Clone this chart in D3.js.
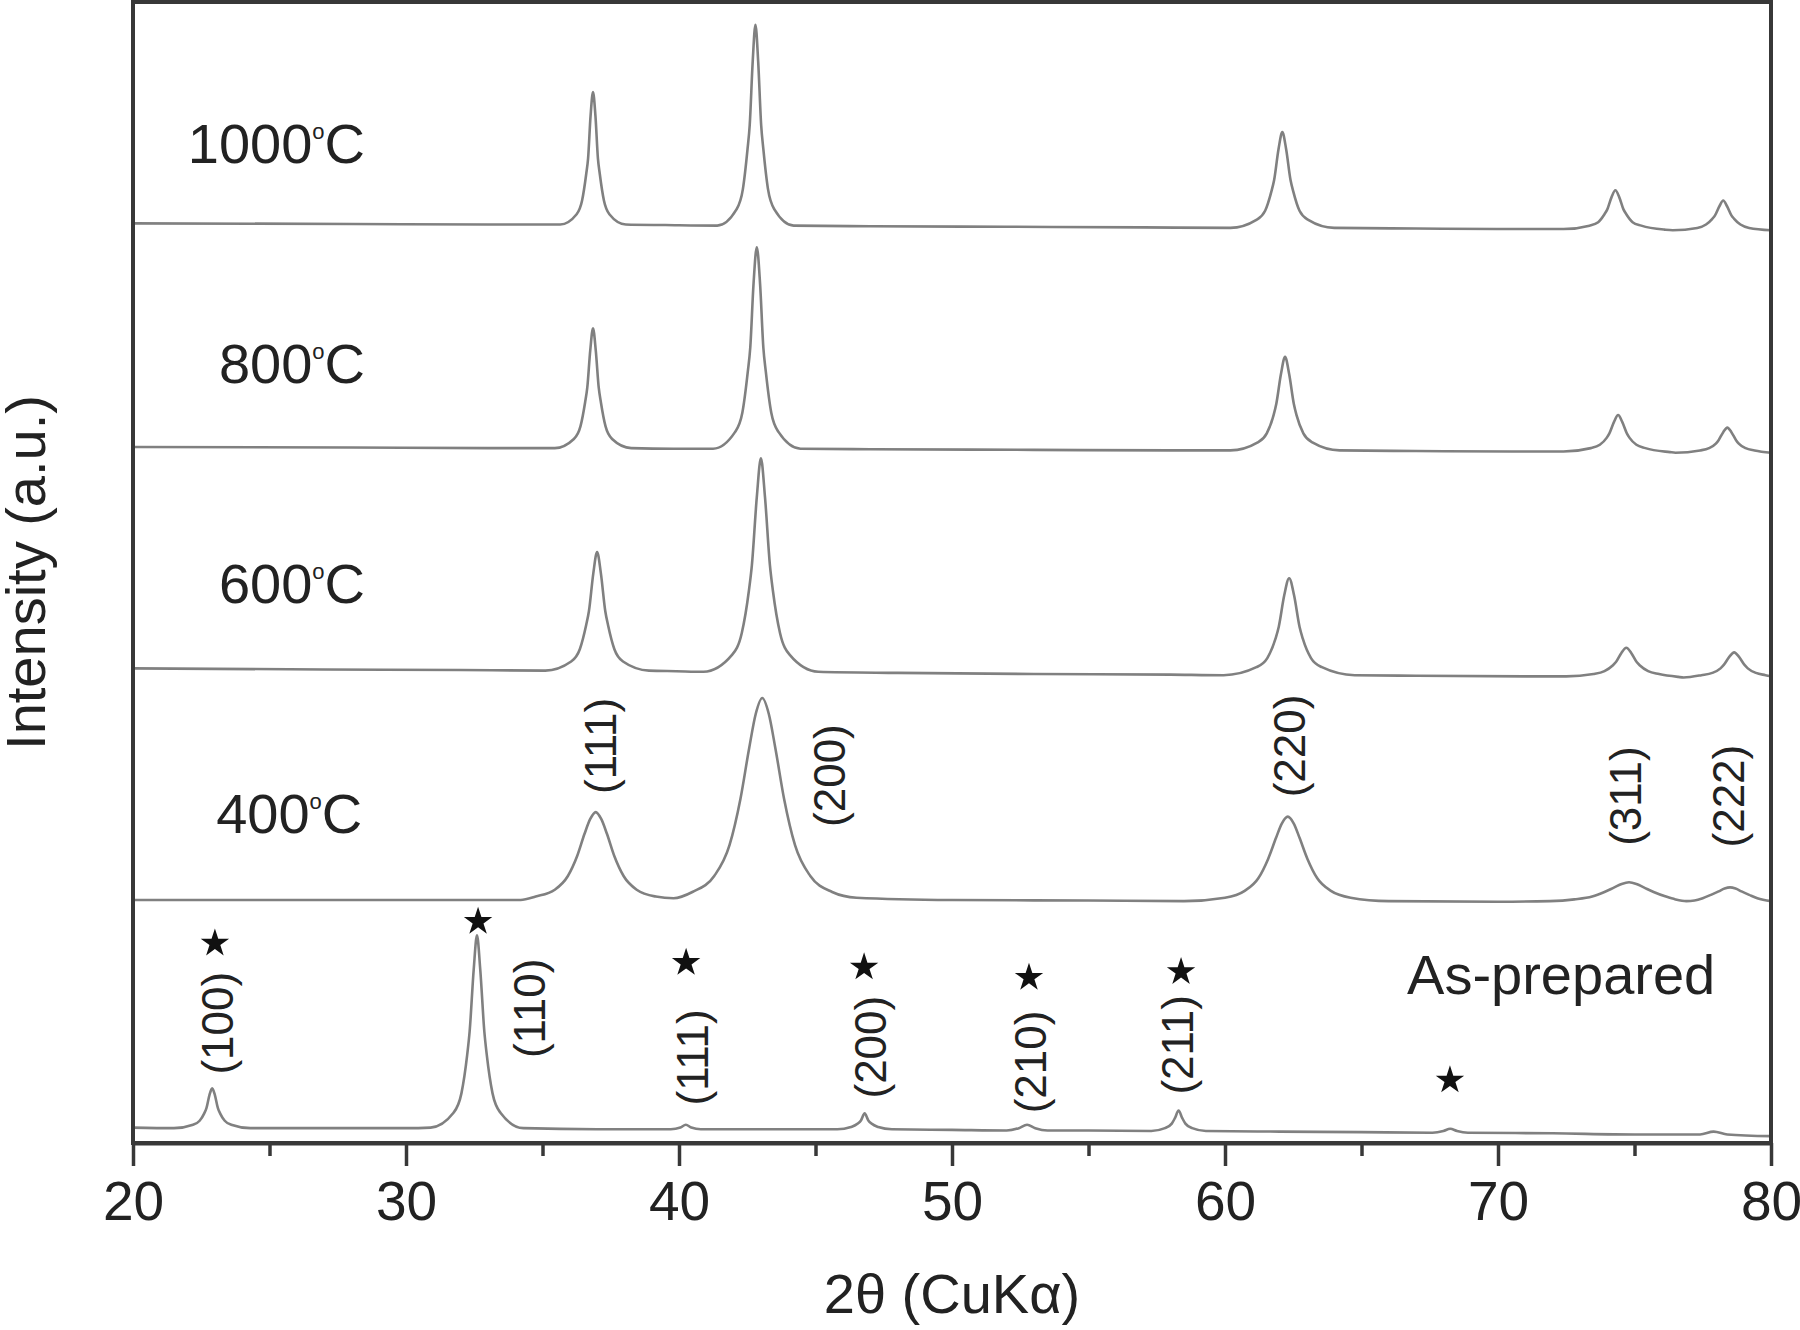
<!DOCTYPE html>
<html>
<head>
<meta charset="utf-8">
<script src="https://cdn.jsdelivr.net/npm/d3@7/dist/d3.min.js"></script>
<style>
  html, body { margin: 0; padding: 0; background: #fff; }
  svg text { font-family: "Liberation Sans", Arial, sans-serif; fill: #222; }
</style>
</head>
<body>
<script>
// tick values on the 2theta axis
const majorTicks = [20, 30, 40, 50, 60, 70, 80];
const minorTicks = [25, 35, 45, 55, 65, 75];

// XRD patterns, [2theta, intensity a.u.] (stacked)
const pattern1000 = [
  [20, 80.6], [28, 80.55], [33, 80.5],
  [35.65, 80.5], [36.25, 81.4], [36.45, 82.6], [36.6, 84.9], [36.67, 86.3], [36.76, 90.0], [36.85, 92.1], [36.94, 90.0], [37.03, 86.3], [37.1, 84.9], [37.25, 82.6], [37.45, 81.4], [38.05, 80.5],
  [39.5, 80.45],
  [41.4, 80.4], [42.1, 81.8], [42.34, 83.6], [42.51, 87.1], [42.59, 89.2], [42.7, 94.8], [42.8, 98.0], [42.9, 94.8], [43.01, 89.2], [43.09, 87.1], [43.26, 83.6], [43.5, 81.8], [44.2, 80.4],
  [47, 80.35], [52, 80.3], [57, 80.25],
  [60.2, 80.2], [61.15, 80.9], [61.47, 81.7], [61.7, 83.4], [61.8, 84.4], [61.96, 87.1], [62.1, 88.6], [62.24, 87.1], [62.4, 84.4], [62.5, 83.4], [62.73, 81.7], [63.05, 80.9], [64.0, 80.2],
  [67, 80.15], [70, 80.1],
  [72.4, 80.1], [73.35, 80.4], [73.67, 80.7], [73.9, 81.4], [74.0, 81.8], [74.16, 82.9], [74.3, 83.5], [74.44, 82.9], [74.6, 81.8], [74.7, 81.4], [74.93, 80.7], [75.25, 80.4], [76.1, 80.05],
  [76.4, 80.0], [77.3, 80.2], [77.62, 80.5], [77.85, 81.0], [77.95, 81.3], [78.11, 82.1], [78.25, 82.6], [78.39, 82.1], [78.55, 81.3], [78.65, 81.0], [78.88, 80.5], [79.2, 80.2], [80, 80.0]
];
const pattern800 = [
  [20, 61.0], [28, 60.95], [33, 60.9],
  [35.45, 60.9], [36.15, 61.7], [36.39, 62.8], [36.56, 64.9], [36.64, 66.2], [36.75, 69.5], [36.85, 71.4], [36.95, 69.5], [37.06, 66.2], [37.14, 64.9], [37.31, 62.8], [37.55, 61.7], [38.25, 60.9],
  [39.8, 60.85],
  [41.25, 60.85], [42.05, 62.3], [42.32, 64.0], [42.52, 67.6], [42.61, 69.7], [42.73, 75.3], [42.85, 78.5], [42.97, 75.3], [43.09, 69.7], [43.18, 67.6], [43.38, 64.0], [43.65, 62.3], [44.45, 60.85],
  [47, 60.8], [53, 60.75], [58, 60.7],
  [60.2, 60.7], [61.2, 61.4], [61.53, 62.2], [61.78, 63.8], [61.88, 64.8], [62.05, 67.4], [62.2, 68.9], [62.35, 67.4], [62.52, 64.8], [62.62, 63.8], [62.87, 62.2], [63.2, 61.4], [64.2, 60.7],
  [67, 60.65], [70.5, 60.6],
  [72.4, 60.6], [73.4, 60.9], [73.73, 61.2], [73.98, 61.8], [74.08, 62.2], [74.25, 63.2], [74.4, 63.8], [74.55, 63.2], [74.72, 62.2], [74.82, 61.8], [75.07, 61.2], [75.4, 60.9], [76.3, 60.55],
  [76.5, 60.5], [77.4, 60.7], [77.73, 60.9], [77.98, 61.3], [78.08, 61.6], [78.25, 62.3], [78.4, 62.7], [78.55, 62.3], [78.72, 61.6], [78.82, 61.3], [79.07, 60.9], [79.4, 60.7], [80, 60.5]
];
const pattern600 = [
  [20, 41.6], [27, 41.5], [32, 41.45],
  [35.1, 41.4], [36.05, 42.2], [36.37, 43.3], [36.6, 45.4], [36.7, 46.6], [36.86, 49.9], [37.0, 51.8], [37.14, 49.9], [37.3, 46.6], [37.4, 45.4], [37.63, 43.3], [37.95, 42.2], [38.9, 41.4],
  [39.9, 41.35],
  [40.9, 41.3], [41.95, 42.8], [42.3, 44.7], [42.56, 48.4], [42.67, 50.65], [42.85, 56.6], [43.0, 60.0], [43.15, 56.6], [43.33, 50.65], [43.44, 48.4], [43.7, 44.7], [44.05, 42.8], [45.1, 41.3],
  [48, 41.2], [53, 41.1], [58, 41.05],
  [59.95, 41.0], [61.15, 41.7], [61.55, 42.5], [61.85, 44.2], [61.97, 45.25], [62.17, 48.0], [62.35, 49.5], [62.53, 48.0], [62.73, 45.25], [62.85, 44.2], [63.15, 42.5], [63.55, 41.7], [64.75, 41.0],
  [67, 40.95], [71, 40.9],
  [72.5, 40.9], [73.5, 41.1], [73.9, 41.35], [74.2, 41.85], [74.32, 42.15], [74.52, 42.95], [74.7, 43.4], [74.88, 42.95], [75.08, 42.15], [75.2, 41.85], [75.5, 41.35], [75.9, 41.1], [76.6, 40.85],
  [76.8, 40.8], [77.45, 41.0], [77.85, 41.2], [78.15, 41.6], [78.27, 41.9], [78.47, 42.6], [78.65, 43.0], [78.83, 42.6], [79.03, 41.9], [79.15, 41.6], [79.45, 41.2], [79.8, 41.0], [80, 40.9]
];
const pattern400 = [
  [20, 21.3], [26, 21.3], [31, 21.3], [34.2, 21.3],
  [34.75, 21.6], [35.45, 22.2], [35.93, 23.4], [36.27, 25.15], [36.54, 27.1], [36.75, 28.4], [36.95, 29.0], [37.15, 28.4], [37.36, 27.1], [37.63, 25.15], [37.97, 23.4], [38.45, 22.2], [39.15, 21.6],
  [39.8, 21.45],
  [40.49, 22.0], [41.29, 23.4], [41.85, 26.1], [42.25, 30.15], [42.57, 34.6], [42.81, 37.6], [43.05, 39.0], [43.29, 37.6], [43.53, 34.6], [43.85, 30.15], [44.25, 26.1], [44.81, 23.4], [45.61, 22.0],
  [46.5, 21.5], [50, 21.3], [55, 21.25], [58.5, 21.2],
  [60.0, 21.5], [60.72, 22.1], [61.22, 23.2], [61.58, 24.9], [61.87, 26.75], [62.08, 28.0], [62.3, 28.6], [62.52, 28.0], [62.73, 26.75], [63.02, 24.9], [63.38, 23.2], [63.88, 22.1], [64.6, 21.5],
  [66, 21.2], [70, 21.15],
  [71.9, 21.2], [72.8, 21.35], [73.45, 21.6], [73.9, 22.0], [74.26, 22.4], [74.53, 22.7], [74.8, 22.85], [75.07, 22.7], [75.34, 22.4], [75.7, 22.0], [76.15, 21.6], [76.5, 21.35], [76.9, 21.2],
  [77.2, 21.25], [77.5, 21.45], [77.8, 21.75], [78.08, 22.05], [78.3, 22.3], [78.5, 22.4], [78.7, 22.3], [78.92, 22.05], [79.2, 21.75], [79.5, 21.45], [80, 21.2]
];
const patternAsPrepared = [
  [20, 1.35], [21.5, 1.3],
  [22.2, 1.6], [22.44, 1.95], [22.61, 2.6], [22.69, 3.05], [22.8, 4.2], [22.9, 4.8], [23.0, 4.2], [23.11, 3.05], [23.19, 2.6], [23.36, 1.95], [23.6, 1.6], [24.3, 1.3],
  [27, 1.3], [30.0, 1.3],
  [30.9, 1.35], [31.74, 2.65], [32.03, 4.35], [32.24, 7.7], [32.33, 9.75], [32.48, 15.2], [32.6, 18.2], [32.72, 15.2], [32.87, 9.75], [32.96, 7.7], [33.17, 4.35], [33.46, 2.65], [34.3, 1.3],
  [37, 1.2], [39.7, 1.2], [40.05, 1.35], [40.25, 1.6], [40.45, 1.35], [40.8, 1.2],
  [44, 1.2], [45.8, 1.2], [46.3, 1.4], [46.55, 1.7], [46.67, 2.0], [46.8, 2.6], [46.93, 2.0], [47.05, 1.7], [47.3, 1.4], [47.8, 1.2],
  [50, 1.15], [52.0, 1.1], [52.45, 1.3], [52.75, 1.6], [53.05, 1.3], [53.5, 1.1],
  [55, 1.1], [57.3, 1.05], [57.8, 1.3], [58.05, 1.7], [58.17, 2.2], [58.3, 2.85], [58.43, 2.2], [58.55, 1.7], [58.8, 1.3], [59.3, 1.05],
  [62, 1.0], [65, 0.95], [67.6, 0.9], [68.0, 1.05], [68.25, 1.25], [68.5, 1.05], [68.9, 0.9],
  [72, 0.85], [75, 0.75], [77.4, 0.75], [77.9, 1.0], [78.4, 0.75], [80, 0.6]
];
const patterns = [pattern1000, pattern800, pattern600, pattern400, patternAsPrepared];

// sample labels: [temperature, 2theta of right edge, intensity of baseline]
const tempLabels = [['1000', 28.5, 85.9], ['800', 28.5, 66.6], ['600', 28.5, 47.3], ['400', 28.4, 27.2]];
const asPreparedLabel = ['As-prepared', 66.67, 13.1];

// Miller indices: [label, 2theta, intensity at label centre]
const cubicPeaks = [['(111)', 37.11, 34.8], ['(200)', 45.53, 32.2], ['(220)', 62.38, 34.8], ['(311)', 74.69, 30.4], ['(222)', 78.43, 30.4]];
const perovskitePeaks = [['(100)', 23.11, 10.5], ['(110)', 34.54, 11.8], ['(111)', 40.48, 7.5], ['(200)', 47.0, 8.4], ['(210)', 52.89, 7.1], ['(211)', 58.28, 8.6]];
// star markers [2theta, intensity]
const starMarks = [[23.0, 17.5], [32.64, 19.4], [40.26, 15.8], [46.78, 15.4], [52.82, 14.5], [58.39, 15.0], [68.24, 5.5]];

const width = 1800;
const height = 1330;
const margin = { top: 2, right: 29, bottom: 187, left: 133 };

const svg = d3.select('body').append('svg').attr('width', width).attr('height', height);

const x = d3.scaleLinear().domain([20, 80]).range([margin.left, width - margin.right]);
const y = d3.scaleLinear().domain([0, 100]).range([height - margin.bottom, margin.top]);

const line = d3.line()
  .x(d => x(d[0]))
  .y(d => y(d[1]))
  .curve(d3.curveMonotoneX);

svg.append('g')
  .selectAll('path')
  .data(patterns)
  .enter().append('path')
    .attr('d', line)
    .attr('fill', 'none')
    .attr('stroke', '#808080')
    .attr('stroke-width', 2.6)
    .attr('stroke-linejoin', 'round');

// frame (top / left / right)
svg.append('rect')
  .attr('x', x(20))
  .attr('y', y(100))
  .attr('width', x(80) - x(20))
  .attr('height', y(0) - y(100))
  .attr('fill', 'none')
  .attr('stroke', '#383838')
  .attr('stroke-width', 4);

// minor ticks
const minorAxis = svg.append('g')
  .attr('transform', `translate(0, ${y(0)})`)
  .call(d3.axisBottom(x).tickValues(minorTicks).tickSize(13).tickSizeOuter(0).tickFormat(''));
minorAxis.select('.domain').remove();
minorAxis.selectAll('line').attr('stroke', '#383838').attr('stroke-width', 3.5);

const xAxis = svg.append('g')
  .attr('transform', `translate(0, ${y(0)})`)
  .call(d3.axisBottom(x).tickValues(majorTicks).tickSize(23).tickPadding(15).tickSizeOuter(0).tickFormat(d3.format('d')));
xAxis.select('.domain').attr('stroke', '#383838').attr('stroke-width', 4);
xAxis.selectAll('line').attr('stroke', '#383838').attr('stroke-width', 3.5);
xAxis.selectAll('text')
  .attr('font-size', 55)
  .style('font-family', '"Liberation Sans", Arial, sans-serif')
  .attr('fill', '#222');

// axis titles
svg.append('text')
  .attr('text-anchor', 'middle')
  .attr('x', (x(20) + x(80)) / 2)
  .attr('y', 1313)
  .attr('font-size', 56)
  .text('2θ (CuKα)');

svg.append('text')
  .attr('text-anchor', 'middle')
  .attr('transform', `translate(45, ${(y(0) + y(100)) / 2})rotate(-90)`)
  .attr('font-size', 56)
  .text('Intensity (a.u.)');

// temperature labels with small raised "o"
tempLabels.forEach((d) => {
  const t = svg.append('text')
    .attr('text-anchor', 'end')
    .attr('x', x(d[1]))
    .attr('y', y(d[2]))
    .attr('font-size', 56);
  t.append('tspan').text(d[0]);
  t.append('tspan').attr('font-size', 22).attr('dy', -24).text('o');
  t.append('tspan').attr('dy', 24).text('C');
});

svg.append('text')
  .attr('x', x(asPreparedLabel[1]))
  .attr('y', y(asPreparedLabel[2]))
  .attr('font-size', 56)
  .text(asPreparedLabel[0]);

// rotated Miller index labels
svg.append('g')
  .selectAll('text')
  .data(cubicPeaks.concat(perovskitePeaks))
  .enter().append('text')
    .attr('text-anchor', 'middle')
    .attr('dy', '0.35em')
    .attr('transform', d => `translate(${x(d[1])}, ${y(d[2])})rotate(-90)`)
    .attr('font-size', 44)
    .attr('fill', '#333')
    .text(d => d[0]);

svg.append('g')
  .selectAll('path')
  .data(starMarks)
  .enter().append('path')
    .attr('transform', d => `translate(${x(d[0])}, ${y(d[1])})`)
    .attr('d', d3.symbol().type(d3.symbolStar).size(250))
    .attr('fill', '#111');
</script>
</body>
</html>
